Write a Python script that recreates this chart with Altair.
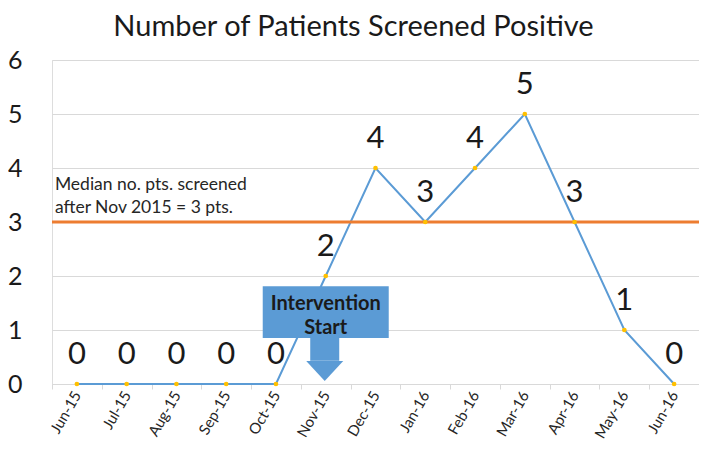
import altair as alt
import pandas as pd

# ---- data ----
months = ["Jun-15", "Jul-15", "Aug-15", "Sep-15", "Oct-15", "Nov-15", "Dec-15",
          "Jan-16", "Feb-16", "Mar-16", "Apr-16", "May-16", "Jun-16"]
counts = [0, 0, 0, 0, 0, 2, 4, 3, 4, 5, 3, 1, 0]
y_ticks = [0, 1, 2, 3, 4, 5, 6]
median_value = 3
median_text = "Median no. pts. screened\nafter Nov 2015 = 3 pts."
intervention_month = "Nov-15"
intervention_text = "Intervention\nStart"
chart_title = "Number of Patients Screened Positive"

FONT = "Lato"
BLUE = "#5B9BD5"
ORANGE = "#ED7D31"
YELLOW = "#FFC000"
GRID = "#D9D9D9"
TEXT = "#1a1a1a"

df = pd.DataFrame({"month": months, "count": counts})

xscale = alt.Scale(type="band", domain=months, paddingInner=0, paddingOuter=0)
yscale = alt.Scale(domain=[0, 6], nice=False, zero=True)


def X(field="month:N"):
    return alt.X(field, sort=months, scale=xscale, title=None)


def Y(field, **kw):
    return alt.Y(field, scale=yscale, title=None, **kw)


base_x = alt.X(
    "month:N", sort=months, scale=xscale, title=None,
    axis=alt.Axis(labelAngle=-60, labelFontSize=15, labelFont=FONT, labelColor="#262626",
                  domainColor=GRID, tickColor=GRID, tickSize=5, tickBand="extent",
                  labelPadding=3, grid=False),
)
base_y = alt.Y(
    "count:Q", scale=yscale, title=None,
    axis=alt.Axis(values=y_ticks, format="d", labelFontSize=25, labelFont=FONT,
                  labelColor=TEXT, labelPadding=30, domain=False, ticks=False,
                  grid=True, gridColor=GRID, gridWidth=1),
)

line = alt.Chart(df).mark_line(color=BLUE, strokeWidth=2).encode(x=base_x, y=base_y)

median_df = pd.DataFrame({"count": [median_value]})
median_rule = alt.Chart(median_df).mark_rule(color=ORANGE, strokeWidth=3).encode(
    y=Y("count:Q")
)

points = alt.Chart(df).mark_point(filled=True, color=YELLOW, size=22, opacity=1).encode(
    x=X(), y=Y("count:Q")
)

labels = alt.Chart(df).mark_text(dy=-29, fontSize=31, font=FONT, color=TEXT,
                                 baseline="middle").encode(
    x=X(), y=Y("count:Q"), text="count:Q"
)

mtext_df = pd.DataFrame({"month": [months[0]], "count": [3.69], "label": [median_text]})
mtext = alt.Chart(mtext_df).mark_text(
    align="left", baseline="middle", dx=-22, fontSize=17.5, lineHeight=23,
    font=FONT, color="#262626", lineBreak="\n"
).encode(x=X(), y=Y("count:Q"), text="label:N")

box_df = pd.DataFrame({"month": [intervention_month], "y1": [0.85], "y2": [1.81]})
box = alt.Chart(box_df).mark_bar(width=126, color=BLUE).encode(
    x=X(), y=Y("y1:Q"), y2="y2:Q"
)

shaft_df = pd.DataFrame({"month": [intervention_month], "y1": [0.43], "y2": [0.86]})
shaft = alt.Chart(shaft_df).mark_bar(width=29, color=BLUE, xOffset=-1).encode(
    x=X(), y=Y("y1:Q"), y2="y2:Q"
)

head_df = pd.DataFrame({"month": [intervention_month], "count": [0.24]})
head = alt.Chart(head_df).mark_point(
    shape="M-1,-0.54L1,-0.54L0,0.54Z", size=1369, filled=True, opacity=1,
    color=BLUE, xOffset=-1, strokeWidth=0
).encode(x=X(), y=Y("count:Q"))

btext_df = pd.DataFrame({"month": [intervention_month], "count": [1.48], "label": [intervention_text]})
btext = alt.Chart(btext_df).mark_text(
    fontSize=20, fontWeight="bold", font=FONT, color=TEXT, lineBreak="\n",
    lineHeight=24, baseline="middle"
).encode(x=X(), y=Y("count:Q"), text="label:N")

chart = alt.layer(
    line, median_rule, points, labels, mtext, box, shaft, head, btext
).properties(
    width=647, height=324,
    autosize=alt.AutoSizeParams(type="none"),
    padding={"left": 44, "top": 52, "right": 0, "bottom": 57},
    title=alt.Title(chart_title, fontSize=29, font=FONT, fontWeight="normal",
                    color=TEXT, anchor="middle", dx=-22, offset=6),
).configure_view(stroke=None).configure(background="white")

chart.save("out.html", embed_options={"renderer": "svg", "actions": False})
